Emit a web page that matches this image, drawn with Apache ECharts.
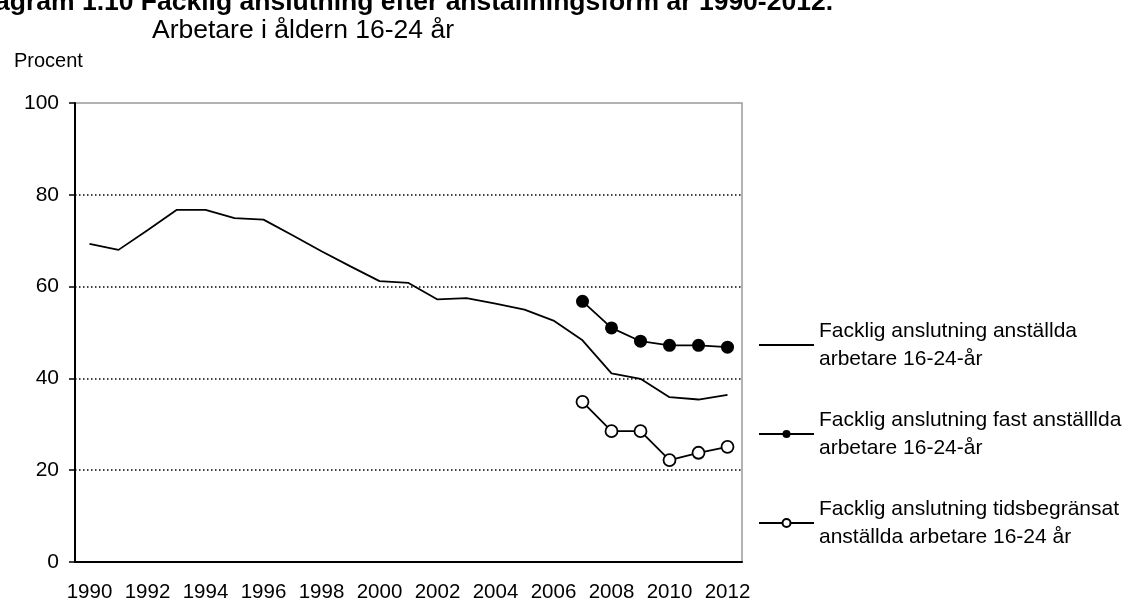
<!DOCTYPE html>
<html>
<head>
<meta charset="utf-8">
<script src="https://cdn.jsdelivr.net/npm/echarts@6/dist/echarts.min.js"></script>
<style>
  html, body { margin: 0; padding: 0; background: #fff; }
  #chart { width: 1128px; height: 603px; }
</style>
</head>
<body>
<div id="chart"></div>
<script>
// years on the x axis
const years = ['1990', '1991', '1992', '1993', '1994', '1995', '1996', '1997', '1998', '1999', '2000',
  '2001', '2002', '2003', '2004', '2005', '2006', '2007', '2008', '2009', '2010', '2011', '2012']

// all employed workers 16-24
const totalValues = [69.3, 68.0, 72.3, 76.7, 76.7, 74.9, 74.6, 71.2, 67.7, 64.4, 61.2,
  60.8, 57.2, 57.5, 56.3, 55.0, 52.6, 48.3, 41.1, 39.9, 35.9, 35.4, 36.4]
// permanent / temporary, only from 2007
const fastValues = [null, null, null, null, null, null, null, null, null, null, null,
  null, null, null, null, null, null, 56.8, 51.0, 48.1, 47.2, 47.2, 46.8]
const tidsValues = [null, null, null, null, null, null, null, null, null, null, null,
  null, null, null, null, null, null, 34.9, 28.5, 28.5, 22.2, 23.8, 25.1]

const seriesNames = [
  'Facklig anslutning anställda\narbetare 16-24-år',
  'Facklig anslutning fast anställlda\narbetare 16-24-år',
  'Facklig anslutning tidsbegränsat\nanställda arbetare 16-24 år'
]

const font = 'Liberation Sans, Arial, sans-serif'

const chart = echarts.init(document.getElementById('chart'))
chart.setOption({
  animation: false,
  textStyle: { fontFamily: font, color: '#000' },
  title: [
    {
      text: 'Diagram 1.10 Facklig anslutning efter anställningsform år 1990-2012.',
      right: 290,
      top: -16,
      textStyle: { fontFamily: font, fontSize: 26.5, fontWeight: 'bold', color: '#000' }
    },
    {
      text: 'Arbetare i åldern 16-24 år',
      left: 147,
      top: 12,
      textStyle: { fontFamily: font, fontSize: 26.5, fontWeight: 'normal', color: '#000' }
    },
    {
      text: 'Procent',
      left: 9,
      top: 46,
      textStyle: { fontFamily: font, fontSize: 20, fontWeight: 'normal', color: '#000' }
    }
  ],
  grid: {
    left: 75,
    right: 386,
    top: 103,
    bottom: 40,
    show: true,
    borderColor: '#999',
    borderWidth: 1.5
  },
  legend: {
    orient: 'vertical',
    left: 758,
    top: 303,
    padding: 0,
    itemWidth: 55,
    itemHeight: 10,
    itemGap: 5,
    textStyle: {
      fontFamily: font,
      fontSize: 21,
      color: '#000',
      lineHeight: 28,
      padding: [28, 0, 0, 0]
    },
    data: [
      { name: seriesNames[0], itemStyle: { opacity: 0 } },
      seriesNames[1],
      seriesNames[2]
    ]
  },
  xAxis: {
    type: 'category',
    data: years,
    boundaryGap: true,
    axisLine: { lineStyle: { color: '#000', width: 2 } },
    axisTick: { interval: 0, length: 6, lineStyle: { color: '#000', width: 1.5 } },
    axisLabel: { interval: 1, fontSize: 20.5, color: '#000', margin: 20, fontFamily: font }
  },
  yAxis: {
    type: 'value',
    min: 0,
    max: 100,
    interval: 20,
    axisLine: { show: true, lineStyle: { color: '#000', width: 2 } },
    axisTick: { show: true, length: 6, lineStyle: { color: '#000', width: 1.5 } },
    axisLabel: { fontSize: 21, color: '#000', margin: 16, fontFamily: font },
    splitLine: {
      show: true,
      showMinLine: false,
      showMaxLine: false,
      lineStyle: { color: '#000', width: 1.5, type: [1.5, 2.5] }
    }
  },
  series: [
    {
      name: seriesNames[0],
      type: 'line',
      data: totalValues,
      symbol: 'none',
      lineStyle: { color: '#000', width: 1.8 },
      itemStyle: { color: '#000' }
    },
    {
      name: seriesNames[1],
      type: 'line',
      data: fastValues,
      symbol: 'circle',
      symbolSize: 13,
      lineStyle: { color: '#000', width: 1.8 },
      itemStyle: { color: '#000' }
    },
    {
      name: seriesNames[2],
      type: 'line',
      data: tidsValues,
      symbol: 'circle',
      symbolSize: 12,
      lineStyle: { color: '#000', width: 1.8 },
      itemStyle: { color: '#fff', borderColor: '#000', borderWidth: 1.8 }
    }
  ]
})
</script>
</body>
</html>
